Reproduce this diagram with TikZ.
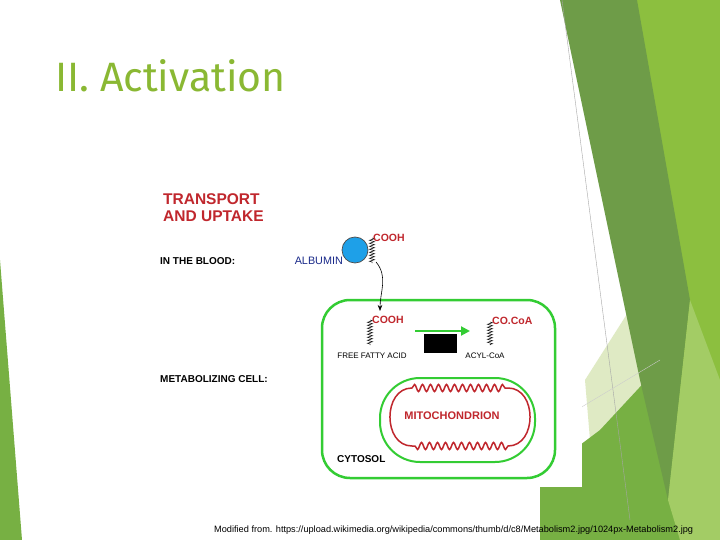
\documentclass[tikz,border=0pt]{standalone}
\usepackage{fontspec}
\setmainfont{Liberation Sans}
\newfontfamily\titlefont{Fira Sans}
\usetikzlibrary{decorations.pathmorphing,arrows.meta}
\definecolor{cg}{HTML}{33CC33}
\definecolor{rd}{HTML}{C0272D}
\definecolor{dg}{HTML}{6E9C48}
\definecolor{lg}{HTML}{8CBF3F}
\definecolor{mg}{HTML}{77B043}
\definecolor{pg}{HTML}{DFEAC4}
\definecolor{tg}{HTML}{8AB833}
\tikzset{
 lbl/.style={font=\bfseries\fontsize{10}{11}\selectfont,anchor=west,inner sep=0},
 red/.style={font=\bfseries\fontsize{10.5}{11}\selectfont,text=rd,anchor=west,inner sep=0},
 small/.style={font=\fontsize{8}{9}\selectfont,inner sep=0},
 chain/.style={decorate,decoration={zigzag,amplitude=2.5pt,segment length=3pt},line width=0.5pt},
 wavy/.style={decorate,decoration={snake,amplitude=3.5pt,segment length=8pt}}
}
\begin{document}
\begin{tikzpicture}[x=1pt,y=-1pt]
\useasboundingbox (0,0) rectangle (720,540);
\fill[white] (0,0) rectangle (720,540);
% background decoration
\fill[lg] (637,0) -- (720,0) -- (720,540) -- (650,540) -- cycle;
\fill[mg] (0,260) -- (22,540) -- (0,540) -- cycle;
\fill[pg] (585,380) -- (655,270) -- (680,380) -- (590,440) -- cycle;
\fill[mg] (540,540) -- (540,475) -- (600,430) -- (665,360) -- (700,540) -- cycle;
\fill[dg] (560,0) -- (637,0) -- (690,300) -- (668,500) -- (640,380) -- cycle;
\fill[lg!80!white] (668,500) -- (690,300) -- (720,380) -- (720,540) -- (680,540) -- cycle;
\draw[gray!70,line width=0.4pt] (562,0) -- (630,520);
\draw[gray!40,line width=0.4pt] (580,408) -- (660,360);
% diagram area
\fill[white] (150,180) rectangle (582,487);
\node[anchor=west,text=tg,font=\titlefont\fontsize{41}{43}\selectfont,inner sep=0] (title) at (55,76) {II. Activation};
\node[anchor=north west,align=left,text=rd,font=\bfseries\fontsize{15.5}{17.5}\selectfont,inner sep=0] (tu) at (163,193) {TRANSPORT\\AND UPTAKE};
\node[lbl] (blood) at (160,261) {IN THE BLOOD:};
\node[lbl] (metab) at (160,379) {METABOLIZING CELL:};
% cell
\draw[cg,line width=2.5pt,rounded corners=28pt] (322,300) rectangle (555,478);
\draw[cg,line width=2pt,rounded corners=40pt] (380,378) rectangle (535,462);
\draw[rd,line width=1.5pt] (412,388) decorate[wavy]{-- (508,388)} to[out=0,in=0,looseness=1.3] (508,446) decorate[wavy]{-- (412,446)} to[out=180,in=180,looseness=1.3] cycle;
\node[red,anchor=center,font=\bfseries\fontsize{11}{12}\selectfont] (mito) at (452,416) {MITOCHONDRION};
\node[lbl] (cyto) at (337,459) {CYTOSOL};
% albumin
\node[circle,draw=black!70,fill={rgb,255:red,30;green,160;blue,232},minimum size=26pt,inner sep=0,line width=0.7pt] (alb) at (355,250) {};
\node[anchor=east,text={rgb,255:red,26;green,42;blue,138},font=\fontsize{10.8}{12}\selectfont,inner sep=0] (albl) at (343,261) {ALBUMIN};
\coordinate (c1t) at (372,238); \coordinate (c1b) at (372,263);
\draw[chain] (c1t) -- (c1b);
\node[red] (cooh1) at (373,238) {COOH};
\coordinate (a1) at (376,262); \coordinate (a2) at (380,311);
\draw[-{Stealth[length=6pt]},line width=0.6pt] (a1) to[out=-50,in=90] (a2);
% FFA
\coordinate (c2t) at (370,320); \coordinate (c2b) at (370,345);
\draw[chain] (c2t) -- (c2b);
\node[red] (cooh2) at (372,320) {COOH};
\node[small] (ffa) at (372,356) {FREE FATTY ACID};
\coordinate (g1) at (415,331); \coordinate (g2) at (470,331);
\draw[cg,line width=2pt,-{Triangle[length=9pt,width=9pt]}] (g1) -- (g2);
\fill[black] (424,334) rectangle (457,353);
\coordinate (c3t) at (490,322); \coordinate (c3b) at (490,345);
\draw[chain] (c3t) -- (c3b);
\node[red] (coa) at (492,321) {CO.CoA};
\node[small] (acyl) at (485,356) {ACYL-CoA};
\node[anchor=west,font=\fontsize{9.2}{10}\selectfont,inner sep=0] (foot) at (214,530) {Modified from. https://upload.wikimedia.org/wikipedia/commons/thumb/d/c8/Metabolism2.jpg/1024px-Metabolism2.jpg};
\end{tikzpicture}
\end{document}
